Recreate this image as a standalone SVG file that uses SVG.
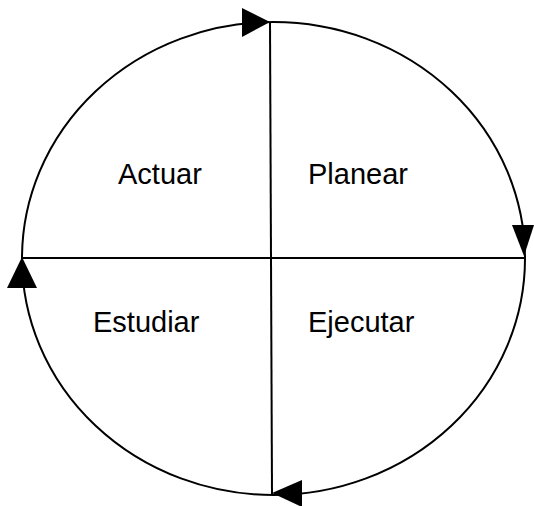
<svg xmlns="http://www.w3.org/2000/svg" width="534" height="506" viewBox="0 0 534 506">
<style>
.l{fill:none;stroke:#000;stroke-width:2}
.a{fill:#000}
.t{font-family:"Liberation Sans",Arial,sans-serif;font-size:29px;fill:#000}
</style>
<rect width="534" height="506" fill="#fff"/>
<g id="connectors">
<ellipse class="l" cx="273.5" cy="258.5" rx="251.5" ry="236.5"/>
<line class="l" x1="270" y1="22" x2="272" y2="495"/>
<line class="l" x1="22" y1="258" x2="525" y2="258"/>
<polygon class="a" points="242,8 270,22 242,37"/>
<polygon class="a" points="512,225 534,225 524,256"/>
<polygon class="a" points="7,288 37,288 22,257"/>
<polygon class="a" points="302,480 302,507 272,493"/>
</g>
<g id="actuar"><text class="t" x="118" y="184">Actuar</text></g>
<g id="planear"><text class="t" x="308" y="184">Planear</text></g>
<g id="estudiar"><text class="t" x="93" y="332">Estudiar</text></g>
<g id="ejecutar"><text class="t" x="308" y="332">Ejecutar</text></g>
</svg>
